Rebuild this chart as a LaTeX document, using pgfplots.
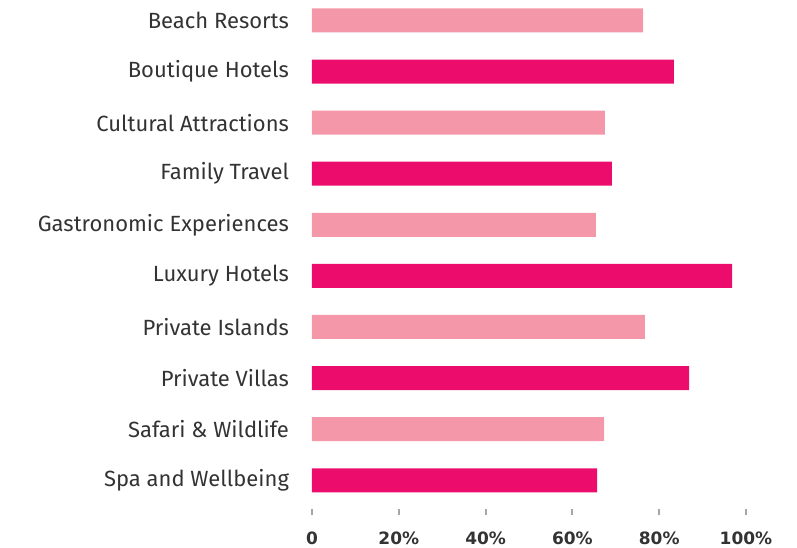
\documentclass[border=0pt]{standalone}
\usepackage{fontspec}
\setmainfont{Fira Sans}
\newfontfamily\tickfont{DejaVu Sans}
\usepackage{pgfplots}
\pgfplotsset{compat=1.18}
\definecolor{lightpink}{HTML}{F498A9}
\definecolor{darkpink}{HTML}{EC0C6C}
\definecolor{txt}{HTML}{333333}
\begin{document}
\begin{tikzpicture}
\begin{axis}[
  name=ax,
  scale only axis,
  width=217pt, height=254.7pt,
  xbar, bar width=12pt, bar shift=0pt,
  xmin=0, xmax=100,
  ymin=-0.4, ymax=9.57,
  y dir=reverse,
  axis line style={draw=none},
  ytick={0,...,9},
  yticklabels={Beach Resorts,Boutique Hotels,Cultural Attractions,Family Travel,Gastronomic Experiences,Luxury Hotels,Private Islands,Private Villas,Safari \& Wildlife,Spa and Wellbeing},
  y tick label style={font=\fontsize{11}{13}\selectfont, text=txt},
  ytick style={draw=none},
  yticklabel style={xshift=-5pt},
  xtick={0,20,40,60,80,100},
  xticklabels={0,20\%,40\%,60\%,80\%,100\%},
  x tick label style={font=\tickfont\bfseries\fontsize{8.5}{10}\selectfont, text=txt, yshift=-4.5pt},
  xtick pos=bottom,
  tick align=outside,
  major tick length=3pt,
  xtick style={draw=gray!70, line width=1pt},
  clip=false,
]
\addplot[fill=lightpink, draw=none] coordinates {(76.3,0) (67.5,2) (65.4,4) (76.7,6) (67.3,8)};
\addplot[fill=darkpink, draw=none] coordinates {(83.4,1) (69.1,3) (96.8,5) (86.9,7) (65.7,9)};
\end{axis}
\pgfresetboundingbox
\path[use as bounding box] ([xshift=-156pt]ax.north west) rectangle ([xshift=25.5pt,yshift=-19pt]ax.south east);
\end{tikzpicture}
\end{document}
